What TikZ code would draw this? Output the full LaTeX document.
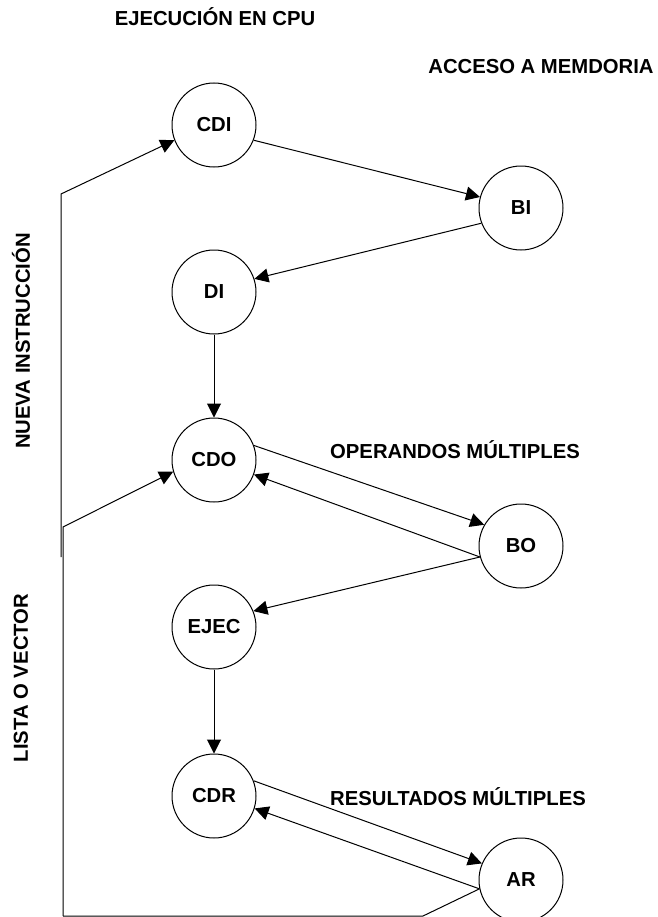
\documentclass[tikz,border=0pt]{standalone}
\usepackage{fontspec}
\setmainfont{Liberation Sans}
\usetikzlibrary{arrows.meta}
\tikzset{
    CC1/.style ={circle,minimum size=63pt,inner sep=0pt,draw,line width=0.75pt,font=\fontsize{15.2pt}{18pt}\selectfont\bfseries},
    TX1/.style ={font=\fontsize{15.2pt}{18pt}\selectfont\bfseries},
    TX2/.style ={font=\fontsize{15.2pt}{18pt}\selectfont\bfseries,rotate=90},
    AA/.style ={-{Triangle[length=10.5pt,width=10.5pt]},line width=0.75pt},
    LL/.style ={line width=0.75pt}}
\begin{document}
\begin{tikzpicture}[x=0.75pt,y=-0.75pt]
        \useasboundingbox (0,0) rectangle (657,917);
        \node[CC1] (1) at(214,125){CDI};
        \node[CC1] (2) at(521,208){BI};
        \node[CC1] (3) at(214,292){DI};
        \node[CC1] (4) at(214,460){CDO};
        \node[CC1] (5) at(521,546){BO};
        \node[CC1] (6) at(214,627){EJEC};
        \node[CC1] (7) at(214,796){CDR};
        \node[CC1] (8) at(521,880){AR};
        \node[TX1] (t1) at(215,17){EJECUCIÓN EN CPU};
        \node[TX1] (t2) at(541,67){ACCESO A MEMDORIA};
        \node[TX1] (t3) at(455,450){OPERANDOS MÚLTIPLES};
        \node[TX1] (t4) at(458,797){RESULTADOS MÚLTIPLES};
        \node[TX2] (t5) at(21,341){NUEVA INSTRUCCIÓN};
        \node[TX2] (t6) at(21,678){LISTA O VECTOR};
        \coordinate (c1) at(61,194);
        \coordinate (c2) at(61,557);
        \coordinate (c3) at(63,527);
        \coordinate (c4) at(63,916);
        \coordinate (c5) at(423,916);
        \draw[AA] (1.-21) -- (2.165);
        \draw[AA] (2.201) -- (3.18);
        \draw[AA] (3) -- (4);
        \draw[AA] (4.20) -- (5.150);
        \draw[AA] (5.195) -- (4.-20);
        \draw[AA] (5.195) -- (6.22);
        \draw[AA] (6) -- (7);
        \draw[AA] (7.21) -- (8.157);
        \draw[AA] (8.192) -- (7.-17);
        \draw[AA] (c2) -- (c1) -- (1.201);
        \draw[AA] (c4) -- (c3) -- (4.196);
        \draw[LL] (c4) -- (c5) -- (8.192);
    \end{tikzpicture}
\end{document}
